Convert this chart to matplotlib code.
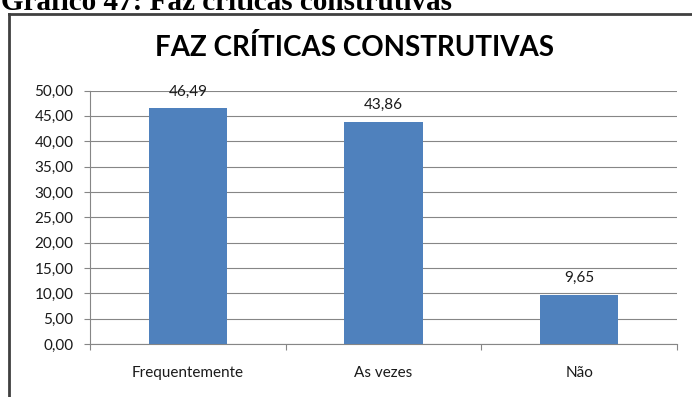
import matplotlib.pyplot as plt
from matplotlib.lines import Line2D

# Dados do gráfico
categorias = ['Frequentemente', 'As vezes', 'Não']
percentuais = [46.49, 43.86, 9.65]
marcas_y = [0, 5, 10, 15, 20, 25, 30, 35, 40, 45, 50]

cor_barra = '#4F81BD'
cor_grade = '#868686'
cor_texto = '#1a1a1a'

fig = plt.figure(figsize=(6.92, 3.97), dpi=100)
ax = fig.add_axes([90 / 692, 1 - 344 / 397, 587 / 692, 253.5 / 397])

x = range(len(categorias))
ax.bar(x, percentuais, width=0.4, color=cor_barra, zorder=3)

# Rótulos de valor acima das barras
for xi, v in zip(x, percentuais):
    ax.annotate(f'{v:.2f}'.replace('.', ','), xy=(xi, v), xytext=(0, 7),
                textcoords='offset points', ha='center', va='bottom',
                fontsize=11, family='Lato', color=cor_texto, zorder=1)

ax.set_xlim(-0.5, 2.5)
ax.set_ylim(0, 50)
ax.set_yticks(marcas_y)
ax.set_yticklabels([f'{t:.2f}'.replace('.', ',') for t in marcas_y],
                   fontsize=11, family='Lato', color=cor_texto)
ax.set_xticks(list(x))
ax.set_xticklabels(categorias, fontsize=11, family='Lato', color=cor_texto)
ax.set_xticks([-0.5, 0.5, 1.5, 2.5], minor=True)

ax.grid(axis='y', color=cor_grade, linewidth=0.8, zorder=0)
ax.set_axisbelow(True)
for lado in ['top', 'right']:
    ax.spines[lado].set_visible(False)
for lado in ['left', 'bottom']:
    ax.spines[lado].set_color(cor_grade)
    ax.spines[lado].set_linewidth(0.8)

ax.tick_params(axis='y', length=4, width=0.8, color=cor_grade, pad=8)
ax.tick_params(axis='x', which='major', length=0, pad=16)
ax.tick_params(axis='x', which='minor', length=4, width=0.8, color=cor_grade)

# Título do gráfico
fig.text(355 / 692, 1 - 47 / 397, 'FAZ CRÍTICAS CONSTRUTIVAS', ha='center',
         va='center', fontsize=20, fontweight='bold', family='Lato',
         color='black')

# Legenda do documento (cortada no topo)
fig.text(1 / 692, 1 - 10 / 397, 'Gráfico 47: Faz críticas construtivas',
         ha='left', va='baseline', fontsize=21, fontweight='bold',
         family='Liberation Serif', color='black')

# Moldura do gráfico
fig.add_artist(Line2D([8.5 / 692, 1], [1 - 14 / 397, 1 - 14 / 397],
                      transform=fig.transFigure, color='#404040', linewidth=2))
fig.add_artist(Line2D([8.5 / 692, 8.5 / 692], [1 - 14 / 397, 0],
                      transform=fig.transFigure, color='#404040', linewidth=2))

fig.savefig('out.png', dpi=100)
